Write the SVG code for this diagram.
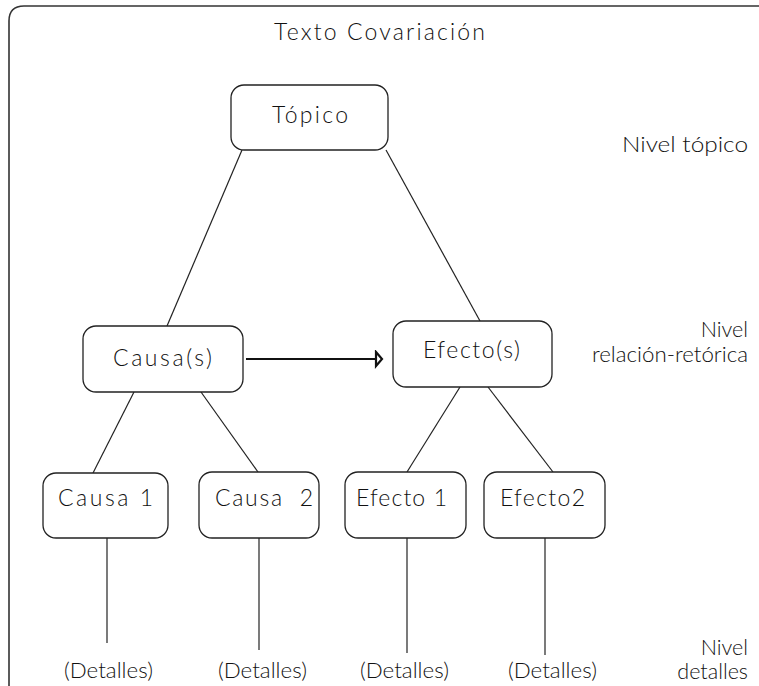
<svg xmlns="http://www.w3.org/2000/svg" width="759" height="686" viewBox="0 0 759 686">
  <style>
    .box { fill: #fff; stroke: #222; stroke-width: 1.3; }
    .lbl { font-family: Lato, "Liberation Sans", Arial, sans-serif; font-weight: 300; font-size: 23px; fill: #111; }
    .side { font-family: Lato, "Liberation Sans", Arial, sans-serif; font-weight: 300; font-size: 21.5px; fill: #111; }
    .det { font-family: Lato, "Liberation Sans", Arial, sans-serif; font-weight: 300; font-size: 21.5px; fill: #111; }
    .link { stroke: #222; stroke-width: 1.2; fill: none; }
  </style>
  <defs>
    <marker id="openHead" markerUnits="userSpaceOnUse" markerWidth="14" markerHeight="20" refX="2" refY="9" orient="auto">
      <path d="M2,2 L8,9 L2,16 Z" fill="#fff" stroke="#111" stroke-width="2.2"/>
    </marker>
  </defs>
  <rect width="759" height="686" fill="#fff"/>

  <!-- outer frame, open to the right and bottom -->
  <path d="M9,686 V21 Q9,6 24,6 H759" fill="none" stroke="#333" stroke-width="1.6"/>

  <text x="274" y="40" class="lbl" font-size="21.5" textLength="211" lengthAdjust="spacing">Texto Covariación</text>

  <g id="connectors">
    <line class="link" x1="242" y1="150" x2="167" y2="326"/>
    <line class="link" x1="386" y1="150" x2="480" y2="321"/>
    <line class="link" x1="134" y1="392" x2="93" y2="473"/>
    <line class="link" x1="201" y1="392" x2="258" y2="472"/>
    <line class="link" x1="460" y1="387" x2="407" y2="472"/>
    <line class="link" x1="488" y1="387" x2="553" y2="472"/>
    <line class="link" x1="107" y1="538" x2="107" y2="643"/>
    <line class="link" x1="259" y1="538" x2="259" y2="650"/>
    <line class="link" x1="407" y1="538" x2="407" y2="653"/>
    <line class="link" x1="545" y1="538" x2="545" y2="655"/>
    <line x1="246" y1="359" x2="376" y2="359" stroke="#111" stroke-width="2" marker-end="url(#openHead)"/>
  </g>

  <g id="topico">
    <rect class="box" x="231" y="85" width="157" height="65" rx="13"/>
    <text class="lbl" x="272" y="123" textLength="76" lengthAdjust="spacing">Tópico</text>
  </g>
  <g id="causas">
    <rect class="box" x="83" y="326" width="160" height="66" rx="13"/>
    <text class="lbl" x="113" y="366" textLength="99" lengthAdjust="spacing">Causa(s)</text>
  </g>
  <g id="efectos">
    <rect class="box" x="393" y="321" width="159" height="66" rx="13"/>
    <text class="lbl" x="423" y="358" textLength="97" lengthAdjust="spacing">Efecto(s)</text>
  </g>
  <g id="causa1">
    <rect class="box" x="43" y="473" width="125" height="65" rx="13"/>
    <text class="lbl" x="58" y="506" textLength="95" lengthAdjust="spacing">Causa 1</text>
  </g>
  <g id="causa2">
    <rect class="box" x="199" y="472" width="120" height="66" rx="13"/>
    <text class="lbl" x="215" y="506" textLength="98" lengthAdjust="spacing" xml:space="preserve">Causa  2</text>
  </g>
  <g id="efecto1">
    <rect class="box" x="345" y="472" width="121" height="66" rx="13"/>
    <text class="lbl" x="356" y="506" textLength="91" lengthAdjust="spacing">Efecto 1</text>
  </g>
  <g id="efecto2">
    <rect class="box" x="484" y="472" width="121" height="66" rx="13"/>
    <text class="lbl" x="500" y="506" textLength="85" lengthAdjust="spacing">Efecto2</text>
  </g>

  <g id="detalles">
    <text class="det" x="64" y="678" textLength="89" lengthAdjust="spacingAndGlyphs">(Detalles)</text>
    <text class="det" x="218" y="678" textLength="89" lengthAdjust="spacingAndGlyphs">(Detalles)</text>
    <text class="det" x="360" y="678" textLength="89" lengthAdjust="spacingAndGlyphs">(Detalles)</text>
    <text class="det" x="508" y="678" textLength="89" lengthAdjust="spacingAndGlyphs">(Detalles)</text>
  </g>

  <g id="niveles">
    <text class="side" x="622" y="152" textLength="126" lengthAdjust="spacingAndGlyphs">Nivel tópico</text>
    <text class="side" x="748" y="337" text-anchor="end">Nivel</text>
    <text class="side" x="592" y="362" textLength="156" lengthAdjust="spacingAndGlyphs">relación-retórica</text>
    <text class="side" x="748" y="655" text-anchor="end">Nivel</text>
    <text class="side" x="748" y="679" text-anchor="end">detalles</text>
  </g>
</svg>
